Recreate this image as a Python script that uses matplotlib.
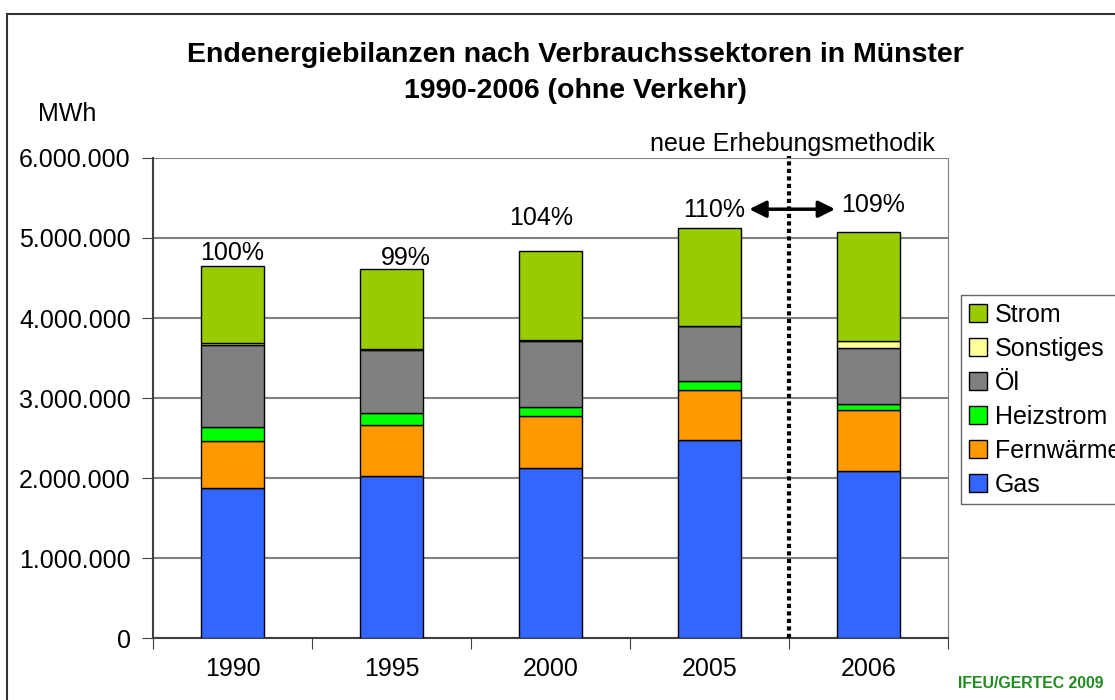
import matplotlib.pyplot as plt
import matplotlib.patches as mpatches
import numpy as np

plt.rcParams['font.family'] = ['Liberation Sans', 'DejaVu Sans']

# Daten (MWh)
jahre = ['1990', '1995', '2000', '2005', '2006']
gas = [1870000, 2025000, 2125000, 2475000, 2092000]
fernwaerme = [595000, 642000, 650000, 625000, 758000]
heizstrom = [175000, 150000, 117000, 117000, 71000]
oel = [1018000, 780000, 818000, 683000, 708000]
sonstiges = [30000, 12000, 12000, 0, 88000]
strom = [962000, 1004000, 1119000, 1229000, 1362000]
prozent = ['100%', '99%', '104%', '110%', '109%']

serien = [('Gas', gas, '#3366FF'),
          ('Fernwärme', fernwaerme, '#FF9900'),
          ('Heizstrom', heizstrom, '#00FF00'),
          ('Öl', oel, '#808080'),
          ('Sonstiges', sonstiges, '#FFFF99'),
          ('Strom', strom, '#99CC00')]

fig = plt.figure(figsize=(11.15, 7), dpi=100)
ax = fig.add_axes([153 / 1115, 1 - 638 / 700, 795 / 1115, 480 / 700])

x = np.arange(len(jahre))
unten = np.zeros(len(jahre))
handles = []
for name, werte, farbe in serien:
    b = ax.bar(x, werte, 0.4, bottom=unten, color=farbe, edgecolor='black',
               linewidth=1, label=name, zorder=3)
    handles.append(b)
    unten += np.array(werte)

# Prozentangaben über den Säulen (manuell versetzt wie im Original)
dx = [0, 0.09, -0.06, 0.03, 0.03]
dy = [160000, 140000, 410000, 220000, 330000]
for i, t in enumerate(prozent):
    ax.text(x[i] + dx[i], unten[i] + dy[i], t, ha='center', va='center',
            fontsize=18)

# Trennlinie neue Erhebungsmethodik
ax.axvline(3.5, color='black', linestyle=(0, (1, 0.8)), linewidth=3, zorder=4,
           ymax=1.005, clip_on=False)
ax.annotate('', xy=(3.25, 5360000), xytext=(3.79, 5360000),
            arrowprops=dict(arrowstyle='<|-|>', color='black', lw=2.5,
                            mutation_scale=25, shrinkA=0, shrinkB=0))
ax.text(3.52, 6180000, 'neue Erhebungsmethodik', ha='center', va='center',
        fontsize=18)

ax.set_xlim(-0.5, 4.5)
ax.set_ylim(0, 6000000)
ax.set_yticks(np.arange(0, 6000001, 1000000))
ax.set_yticklabels([f'{int(v):,}'.replace(',', '.') for v in ax.get_yticks()])
ax.yaxis.grid(True, color='#808080', linewidth=1.5, zorder=0)
ax.set_axisbelow(True)

ax.set_xticks(np.arange(-0.5, 5, 1))
ax.set_xticklabels([])
ax.set_xticks(x, minor=True)
ax.set_xticklabels(jahre, minor=True)
ax.tick_params(axis='x', which='minor', length=0, pad=14, labelsize=18)
ax.tick_params(axis='x', which='major', length=8, color='#404040')
ax.tick_params(axis='y', length=8, color='#404040', labelsize=18, pad=8)

ax.spines['top'].set_visible(False)
ax.spines['right'].set_color('#808080')
ax.spines['left'].set_color('#404040')
ax.spines['bottom'].set_color('#404040')
ax.spines['left'].set_linewidth(1.5)
ax.spines['bottom'].set_linewidth(1.5)

# Titel
fig.text(575 / 1115, 1 - 73 / 700,
         'Endenergiebilanzen nach Verbrauchssektoren in Münster\n1990-2006 (ohne Verkehr)',
         ha='center', va='center', fontsize=20.5, fontweight='bold', linespacing=1.45)
fig.text(38 / 1115, 1 - 114 / 700, 'MWh', ha='left', va='center', fontsize=18)
fig.text(958 / 1115, 1 - 683 / 700, 'IFEU/GERTEC 2009', ha='left', va='center',
         fontsize=11.4, fontweight='bold', color='#1E8C1E')

# Legende (rechts abgeschnitten wie im Original)
leg = fig.legend(handles[::-1], [s[0] for s in serien][::-1],
                 loc='upper left', bbox_to_anchor=(961 / 1115, 1 - 295 / 700),
                 fontsize=18, frameon=True, fancybox=False, edgecolor='#404040',
                 handlelength=0.75, handleheight=0.75, handletextpad=0.3,
                 labelspacing=0.4, borderpad=0.3, borderaxespad=0)
leg.get_frame().set_linewidth(1)

# Rahmen um die Grafik
fig.patches.append(mpatches.Rectangle((7 / 1115, -0.05), 1.2, 1 - 14 / 700 + 0.05,
                                      transform=fig.transFigure, fill=False,
                                      edgecolor='#333333', linewidth=1.5))

fig.savefig('out.png', dpi=100)
